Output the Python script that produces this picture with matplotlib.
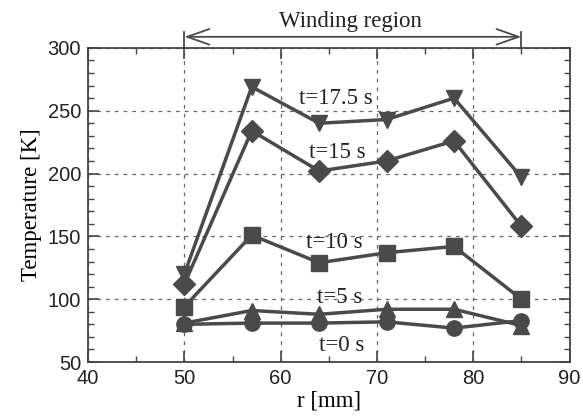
import matplotlib
matplotlib.use("Agg")
import matplotlib.pyplot as plt
from matplotlib.ticker import MultipleLocator

r_mm = [50, 57, 64, 71, 78, 85]
temp_0 = [80, 81, 81, 82, 77, 83]
temp_5 = [81, 91, 88, 92, 92, 79]
temp_10 = [94, 151, 129, 137, 142, 100]
temp_15 = [112, 234, 202, 210, 226, 158]
temp_17_5 = [120, 269, 240, 243, 260, 197]

labels = ["t=0 s", "t=5 s", "t=10 s", "t=15 s", "t=17.5 s"]
label_x = [66.3, 66.1, 65.6, 65.9, 65.7]
label_y = [63.5, 101.5, 145.5, 217, 260]

series = [
    (temp_0, "o", 11),
    (temp_5, "^", 12),
    (temp_10, "s", 12),
    (temp_15, "D", 11),
    (temp_17_5, "v", 12),
]

col = "#4a4a4a"
serif = ["Liberation Serif", "DejaVu Serif"]
sans = ["Liberation Sans", "DejaVu Sans"]

fig = plt.figure(figsize=(5.83, 4.20), dpi=100)
ax = fig.add_axes([0.151, 0.138, 0.826, 0.748])

for (vals, mk, ms), lab, lx, ly in zip(series, labels, label_x, label_y):
    ax.plot(r_mm, vals, color=col, lw=2.5, marker=mk, ms=ms, mfc=col, mec=col)
    ax.text(lx, ly, lab, ha="center", va="center", fontsize=16.5,
            family=serif, color="#222222")

ax.set_xlim(40, 90)
ax.set_ylim(50, 300)
ax.xaxis.set_major_locator(MultipleLocator(10))
ax.xaxis.set_minor_locator(MultipleLocator(5))
ax.yaxis.set_major_locator(MultipleLocator(50))
ax.yaxis.set_minor_locator(MultipleLocator(10))
ax.tick_params(which="both", direction="in", top=True, right=True, color="#444444")
ax.tick_params(which="major", length=8, width=1.2, labelsize=14.5, pad=5)
ax.tick_params(which="minor", length=4.5, width=1.0)
for lbl in ax.get_xticklabels() + ax.get_yticklabels():
    lbl.set_family(sans)
    lbl.set_color("#222222")
for sp in ax.spines.values():
    sp.set_color("#444444")
    sp.set_linewidth(1.3)

ax.grid(True, which="major", ls=(0, (3, 4)), color="#666666", lw=0.9)

ax.set_xlabel("r [mm]", fontsize=16.5, family=serif, labelpad=2)
ax.set_ylabel("Temperature [K]", fontsize=16.5, family=serif, labelpad=4)

# winding region arrow above the axes
ax.annotate("", xy=(85, 308.8), xytext=(50, 308.8), xycoords="data",
            arrowprops=dict(arrowstyle="<->,head_length=0.8,head_width=0.28",
                            color=col, lw=1.3, mutation_scale=20,
                            shrinkA=0, shrinkB=0),
            annotation_clip=False)
ax.plot([50, 50], [300, 313], color=col, lw=1.3, clip_on=False)
ax.plot([85, 85], [300, 313], color=col, lw=1.3, clip_on=False)
ax.text(67.2, 312.5, "Winding region", ha="center", va="bottom", fontsize=16.5,
        family=serif, color="#222222")

fig.savefig("out.png", dpi=100)
